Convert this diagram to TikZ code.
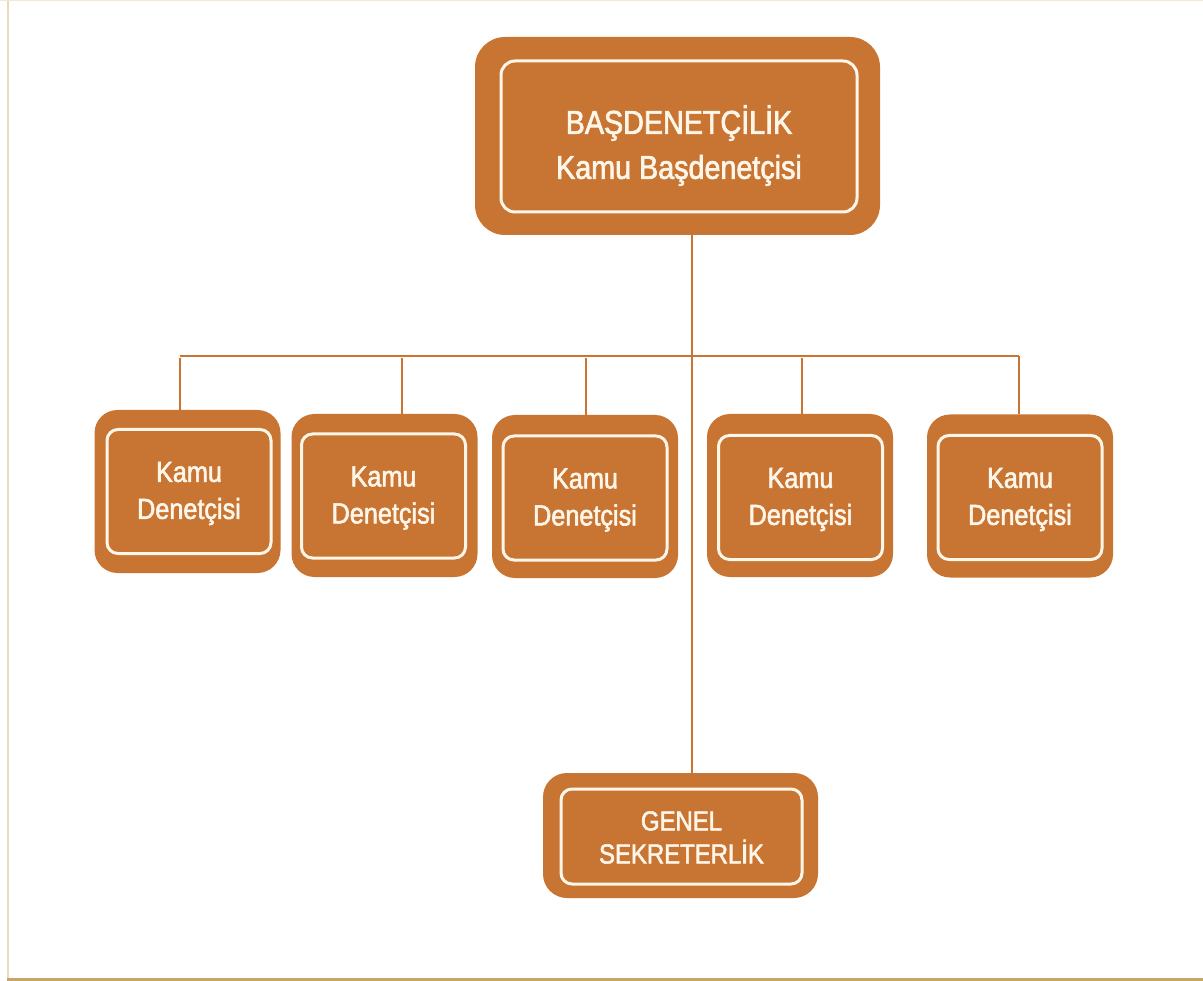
\documentclass[tikz,border=0pt]{standalone}
\usepackage{fontspec}
\setmainfont{Liberation Sans}[FakeStretch=0.87, FakeBold=2]
\definecolor{org}{HTML}{C87533}
\definecolor{cream}{HTML}{FFF6EA}
\definecolor{borderlight}{HTML}{EBD9BF}
\definecolor{borderdark}{HTML}{C9A466}
\begin{document}
\begin{tikzpicture}[x=1pt,y=-1pt,
  outerbox/.style={fill=org, draw=none, inner sep=0pt},
  innerbox/.style={draw=cream, line width=3pt, fill=org, inner sep=0pt, rounded corners=11pt},
  txt/.style={text=cream, align=center, inner sep=0pt},
  link/.style={draw=org, line width=2pt},
  big/.style={font=\fontsize{33}{45}\selectfont},
  mid/.style={font=\fontsize{29}{37}\selectfont},
  sml/.style={font=\fontsize{27.5}{33}\selectfont}]
\useasboundingbox (0,0) rectangle (1203,981);
\fill[white] (0,0) rectangle (1203,981);
\draw[borderlight, line width=2.5pt] (8,0) -- (8,981);
\draw[borderlight!60, line width=1.5pt] (0,0.7) -- (1203,0.7);
\draw[borderdark, line width=3pt] (7,979.5) -- (1203,979.5);

% top box
\node[outerbox, minimum width=405pt, minimum height=198pt, rounded corners=30pt] (top) at (677.5,136) {};
\node[innerbox, minimum width=356pt, minimum height=151pt, rounded corners=14pt] (topin) at (679,136.5) {};
\node[txt, big] (toptxt) at (679,145.5) {BAŞDENETÇİLİK\\Kamu Başdenetçisi};

% row boxes
\foreach \n/\ox/\oy/\ix/\iy in {k1/187.5/491.5/189/491.5, k2/384.5/495.5/383.5/496, k3/585/496.5/585/498, k4/800/495.5/800.5/497.5, k5/1020/496/1020/497.5}{
  \node[outerbox, minimum width=186pt, minimum height=163pt, rounded corners=23pt] (\n) at (\ox,\oy) {};
  \node[innerbox, minimum width=164pt, minimum height=124pt] (\n in) at (\ix,\iy) {};
  \node[txt, mid] (\n txt) at (\ix,\iy+2) {Kamu\\Denetçisi};
}

% general secretariat
\node[outerbox, minimum width=275pt, minimum height=125pt, rounded corners=24pt] (gen) at (680.5,835.5) {};
\node[innerbox, minimum width=241pt, minimum height=95pt] (genin) at (681.5,836.5) {};
\node[txt, sml] (gentxt) at (681.5,837.5) {GENEL\\SEKRETERLİK};

% connectors
\coordinate (trunk) at (692,356);
\coordinate (hl) at (180,356);
\coordinate (hr) at (1019,356);
\coordinate (c2) at (402,356);
\coordinate (c3) at (586,356);
\coordinate (c4) at (802,356);
\draw[link] (trunk |- top.south) -- (trunk |- gen.north);
\draw[link] (hl) -- (hr);
\draw[link] ([yshift=-2pt]hl) -- (hl |- k1.north);
\draw[link] ([yshift=-2pt]c2) -- (c2 |- k2.north);
\draw[link] ([yshift=-2pt]c3) -- (c3 |- k3.north);
\draw[link] ([yshift=-2pt]c4) -- (c4 |- k4.north);
\draw[link] (hr) -- (hr |- k5.north);
\end{tikzpicture}
\end{document}
